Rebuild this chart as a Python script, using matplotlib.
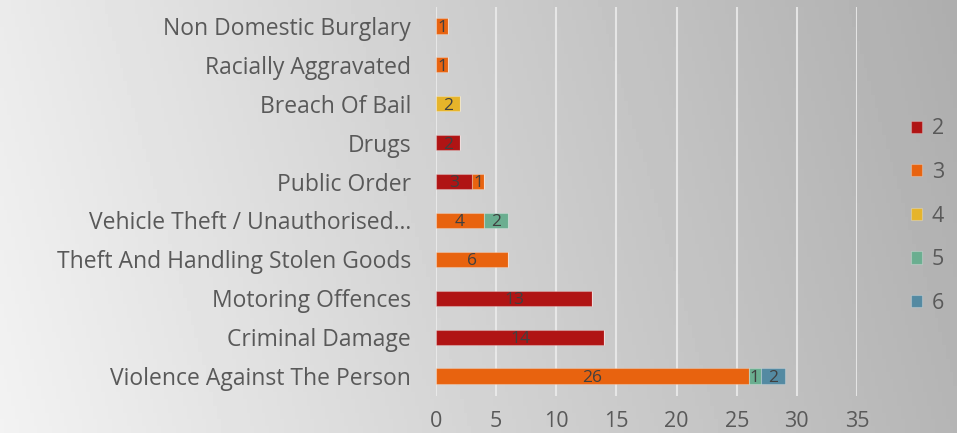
import numpy as np
import matplotlib
matplotlib.use("Agg")
import matplotlib.pyplot as plt

# data (bottom to top)
categories = ["Violence Against The Person", "Criminal Damage", "Motoring Offences",
              "Theft And Handling Stolen Goods", "Vehicle Theft / Unauthorised\u2026",
              "Public Order", "Drugs", "Breach Of Bail", "Racially Aggravated",
              "Non Domestic Burglary"]
series_names = ["2", "3", "4", "5", "6"]
s2 = [0, 14, 13, 0, 0, 3, 2, 0, 0, 0]
s3 = [26, 0, 0, 6, 4, 1, 0, 0, 1, 1]
s4 = [0, 0, 0, 0, 0, 0, 0, 2, 0, 0]
s5 = [1, 0, 0, 0, 2, 0, 0, 0, 0, 0]
s6 = [2, 0, 0, 0, 0, 0, 0, 0, 0, 0]
xticks = [0, 5, 10, 15, 20, 25, 30, 35]

colors = ["#b01414", "#e8630f", "#e6b42a", "#6aae90", "#548aa2"]
plt.rcParams['font.family'] = ['Open Sans', 'DejaVu Sans']

fig = plt.figure(figsize=(9.57, 4.33), dpi=100)

# gradient background
bg = fig.add_axes([0, 0, 1, 1], zorder=0)
gx = np.linspace(0, 1, 256)
gy = np.linspace(0, 1, 64)
X, Y = np.meshgrid(gx, gy)
shade = 0.95 - 0.24 * X - 0.03 * Y
bg.imshow(shade, cmap="gray", vmin=0, vmax=1, aspect="auto", extent=[0, 1, 0, 1], origin="lower")
bg.axis("off")

ax = fig.add_axes([436 / 957, 1 - 395.5 / 433, (857 - 436) / 957, 389 / 433], zorder=1)
ax.patch.set_alpha(0)

y = np.arange(len(categories))
left = np.zeros(len(categories))
for name, vals, c in zip(series_names, [s2, s3, s4, s5, s6], colors):
    vals = np.array(vals, dtype=float)
    ax.barh(y, vals, left=left, height=0.39, color=c, label=name,
            edgecolor=(1, 1, 1, 0.25), linewidth=0.8, zorder=3)
    for yi, v, l in zip(y, vals, left):
        if v > 0:
            ax.text(l + v / 2, yi - 0.05, f"{int(v)}", ha="center", va="center",
                    fontsize=12.5, color="#404040", zorder=4)
    left += vals

ax.set_xlim(0, 35)
ax.set_ylim(-0.5, len(categories) - 0.5)
ax.set_xticks(xticks)
ax.set_yticks(y)
ax.set_yticklabels(categories, fontsize=16.5)
ax.grid(axis="x", color="#ececec", linewidth=1.5, alpha=0.85, zorder=0)
ax.set_axisbelow(True)
for s in ax.spines.values():
    s.set_visible(False)
ax.tick_params(axis="both", length=0, colors="#595959")
ax.tick_params(axis="x", pad=11, labelsize=15.5)
ax.tick_params(axis="y", pad=18)

leg = ax.legend(loc="center left", frameon=False,
                fontsize=15.5, labelcolor="#595959", handlelength=0.5, handleheight=0.5,
                labelspacing=1.05, handletextpad=0.45)
leg.set_bbox_to_anchor((892 / 957, 1 - 216 / 433), transform=fig.transFigure)

fig.savefig("out.png", dpi=100)
